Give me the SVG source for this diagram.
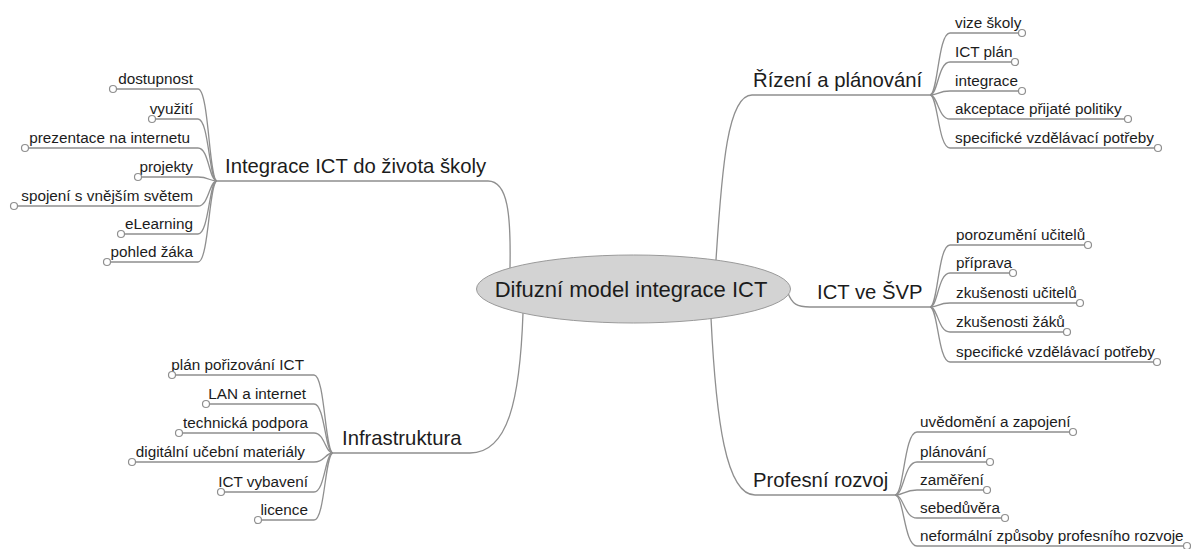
<svg xmlns="http://www.w3.org/2000/svg" width="1191" height="549" viewBox="0 0 1191 549">
<style>
.conn{fill:none;stroke:#8f8f8f;stroke-width:1.3}
.dot{fill:#fff;stroke:#8f8f8f;stroke-width:1.2}
text{font-family:"Liberation Sans",Arial,sans-serif;fill:#1c1c1c}
.c{font-size:15.3px}
.b{font-size:20.3px}
.m{font-size:22px}
.e{text-anchor:end}
</style>
<rect width="1191" height="549" fill="#fff"/>
<g id="connectors">
<!-- main branches -->
<path class="conn" d="M510,268 C511,215 508,181 488,181 L217,181"/>
<path class="conn" d="M716,260 C722,165 728,95 752,95 L930,95"/>
<path class="conn" d="M788,293 C792,304 797,307 810,307 L930,307"/>
<path class="conn" d="M711,318 C716,420 726,495 755,495 L895,495"/>
<path class="conn" d="M523,313 C520,400 508,453 470,453 L333,453"/>
<!-- Řízení a plánování -->
<path class="conn" d="M930,95 C938,95 938,33 950,33 H1018.5"/>
<path class="conn" d="M930,95 C938,95 938,62 950,62 H1011.5"/>
<path class="conn" d="M930,95 C938,95 938,91 950,91 H1018.5"/>
<path class="conn" d="M930,95 C938,95 938,119 950,119 H1124.5"/>
<path class="conn" d="M930,95 C938,95 938,148 950,148 H1154.5"/>
<!-- ICT ve ŠVP -->
<path class="conn" d="M930,307 C938,307 938,245 950,245 H1084.5"/>
<path class="conn" d="M930,307 C938,307 938,273 950,273 H1009.5"/>
<path class="conn" d="M930,307 C938,307 938,303 950,303 H1076.5"/>
<path class="conn" d="M930,307 C938,307 938,332 950,332 H1063.5"/>
<path class="conn" d="M930,307 C938,307 938,362 950,362 H1153.5"/>
<!-- Profesní rozvoj -->
<path class="conn" d="M895,495 C904,495 904,432 917,432 H1069.5"/>
<path class="conn" d="M895,495 C904,495 904,462 917,462 H986.5"/>
<path class="conn" d="M895,495 C904,495 904,490 917,490 H983.5"/>
<path class="conn" d="M895,495 C904,495 904,518 917,518 H1001.5"/>
<path class="conn" d="M895,495 C904,495 904,546 917,546 H1183.5"/>
<!-- Integrace ICT do života školy -->
<path class="conn" d="M217,181 C209,181 209,89 198,89 H116.5"/>
<path class="conn" d="M217,181 C209,181 209,119 198,119 H155.5"/>
<path class="conn" d="M217,181 C209,181 209,148 198,148 H28.5"/>
<path class="conn" d="M217,181 C209,181 209,177 198,177 H141.5"/>
<path class="conn" d="M217,181 C209,181 209,206 198,206 H17.5"/>
<path class="conn" d="M217,181 C209,181 209,234 198,234 H124.5"/>
<path class="conn" d="M217,181 C209,181 209,262 198,262 H110.5"/>
<!-- Infrastruktura -->
<path class="conn" d="M333,453 C325,453 325,375 314,375 H175.5"/>
<path class="conn" d="M333,453 C325,453 325,404 314,404 H209.5"/>
<path class="conn" d="M333,453 C325,453 325,433 314,433 H182.5"/>
<path class="conn" d="M333,453 C325,453 325,462 314,462 H135.5"/>
<path class="conn" d="M333,453 C325,453 325,492 314,492 H224.5"/>
<path class="conn" d="M333,453 C325,453 325,520 314,520 H261.5"/>
</g>
<g id="center">
<ellipse cx="633.5" cy="289" rx="157" ry="34" fill="#d3d3d3" stroke="#9a9a9a" stroke-width="1"/>
<text class="m" x="631" y="297" text-anchor="middle">Difuzní model integrace ICT</text>
</g>
<g id="b-rizeni"><text class="b" x="753" y="87">Řízení a plánování</text></g>
<g id="b-svp"><text class="b" x="817" y="299">ICT ve ŠVP</text></g>
<g id="b-profesni"><text class="b" x="753" y="487">Profesní rozvoj</text></g>
<g id="b-integrace"><text class="b" x="225" y="173">Integrace ICT do života školy</text></g>
<g id="b-infra"><text class="b" x="342" y="445">Infrastruktura</text></g>

<g id="r1"><text class="c" x="955" y="28">vize školy</text><circle class="dot" cx="1022" cy="33" r="3.5"/></g>
<g id="r2"><text class="c" x="955" y="57">ICT plán</text><circle class="dot" cx="1015" cy="62" r="3.5"/></g>
<g id="r3"><text class="c" x="955" y="86">integrace</text><circle class="dot" cx="1022" cy="91" r="3.5"/></g>
<g id="r4"><text class="c" x="955" y="114">akceptace přijaté politiky</text><circle class="dot" cx="1128" cy="119" r="3.5"/></g>
<g id="r5"><text class="c" x="955" y="143">specifické vzdělávací potřeby</text><circle class="dot" cx="1158" cy="148" r="3.5"/></g>

<g id="s1"><text class="c" x="956" y="240">porozumění učitelů</text><circle class="dot" cx="1088" cy="245" r="3.5"/></g>
<g id="s2"><text class="c" x="956" y="268">příprava</text><circle class="dot" cx="1013" cy="273" r="3.5"/></g>
<g id="s3"><text class="c" x="956" y="298">zkušenosti učitelů</text><circle class="dot" cx="1080" cy="303" r="3.5"/></g>
<g id="s4"><text class="c" x="956" y="327">zkušenosti žáků</text><circle class="dot" cx="1067" cy="332" r="3.5"/></g>
<g id="s5"><text class="c" x="956" y="357">specifické vzdělávací potřeby</text><circle class="dot" cx="1157" cy="362" r="3.5"/></g>

<g id="p1"><text class="c" x="920" y="427">uvědomění a zapojení</text><circle class="dot" cx="1073" cy="432" r="3.5"/></g>
<g id="p2"><text class="c" x="920" y="457">plánování</text><circle class="dot" cx="990" cy="462" r="3.5"/></g>
<g id="p3"><text class="c" x="920" y="485">zaměření</text><circle class="dot" cx="987" cy="490" r="3.5"/></g>
<g id="p4"><text class="c" x="920" y="513">sebedůvěra</text><circle class="dot" cx="1005" cy="518" r="3.5"/></g>
<g id="p5"><text class="c" x="920" y="541">neformální způsoby profesního rozvoje</text><circle class="dot" cx="1187" cy="546" r="3.5"/></g>

<g id="i1"><text class="c e" x="193" y="84">dostupnost</text><circle class="dot" cx="113" cy="89" r="3.5"/></g>
<g id="i2"><text class="c e" x="193" y="114">využití</text><circle class="dot" cx="152" cy="119" r="3.5"/></g>
<g id="i3"><text class="c e" x="190" y="143">prezentace na internetu</text><circle class="dot" cx="25" cy="148" r="3.5"/></g>
<g id="i4"><text class="c e" x="193" y="172">projekty</text><circle class="dot" cx="138" cy="177" r="3.5"/></g>
<g id="i5"><text class="c e" x="193" y="201">spojení s vnějším světem</text><circle class="dot" cx="14" cy="206" r="3.5"/></g>
<g id="i6"><text class="c e" x="193" y="229">eLearning</text><circle class="dot" cx="121" cy="234" r="3.5"/></g>
<g id="i7"><text class="c e" x="193" y="257">pohled žáka</text><circle class="dot" cx="107" cy="262" r="3.5"/></g>

<g id="f1"><text class="c e" x="304" y="370">plán pořizování ICT</text><circle class="dot" cx="172" cy="375" r="3.5"/></g>
<g id="f2"><text class="c e" x="306" y="399">LAN a internet</text><circle class="dot" cx="206" cy="404" r="3.5"/></g>
<g id="f3"><text class="c e" x="308" y="428">technická podpora</text><circle class="dot" cx="179" cy="433" r="3.5"/></g>
<g id="f4"><text class="c e" x="305" y="457">digitální učební materiály</text><circle class="dot" cx="132" cy="462" r="3.5"/></g>
<g id="f5"><text class="c e" x="308" y="487">ICT vybavení</text><circle class="dot" cx="221" cy="492" r="3.5"/></g>
<g id="f6"><text class="c e" x="308" y="515">licence</text><circle class="dot" cx="258" cy="520" r="3.5"/></g>
</svg>
